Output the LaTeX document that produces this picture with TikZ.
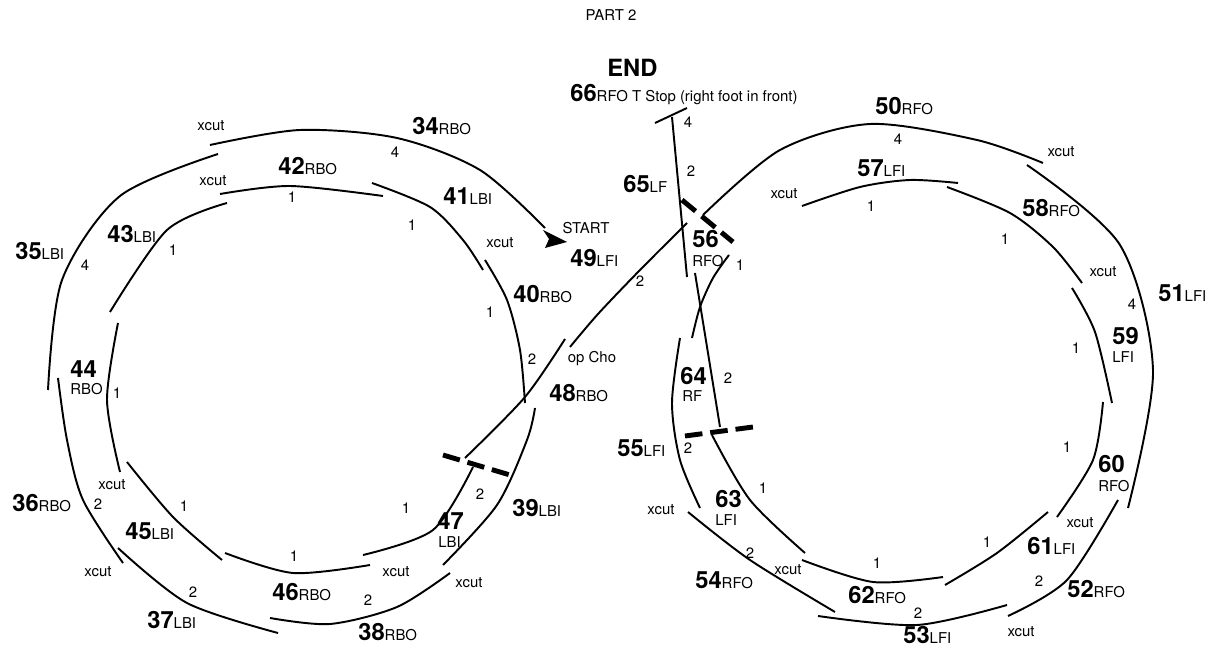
\documentclass[tikz,border=0pt]{standalone}
\usepackage{fontspec}
\setmainfont{TeX Gyre Heros}

\newcommand{\mv}[2]{{\bfseries\fontsize{13.5}{14}\selectfont #1}{\fontsize{8.5}{10}\selectfont #2}}

\tikzset{
  trace/.style={line width=1.1pt},
  cutline/.style={line width=2.8pt, dash pattern=on 10pt off 4.5pt},
  num/.style={inner sep=0pt, anchor=base west, font=\bfseries\fontsize{13.5}{14}\selectfont},
  edgetx/.style={inner sep=0pt, anchor=base west, font=\fontsize{8.5}{10}\selectfont},
  note/.style={inner sep=0pt, font=\fontsize{8.5}{10}\selectfont},
}

\begin{document}
\begin{tikzpicture}[x=0.02cm, y=-0.02cm]
  \useasboundingbox (0,0) rectangle (1221,648);

  \draw[trace] plot[smooth] coordinates {(210,145) (300,130) (397,138) (480,170) (545,228)};
  \fill (543,230) -- (567,242) -- (545,248) -- (549,239) -- cycle;
  \draw[trace] plot[smooth] coordinates {(218,154) (120,196) (62,280) (48,390)};
  \draw[trace] plot[smooth] coordinates {(58,378) (67,440) (83,500) (123,563)};
  \draw[trace] plot[smooth] coordinates {(118,548) (187,603) (278,633)};
  \draw[trace] plot[smooth] coordinates {(270,618) (330,624) (397,607) (450,573)};
  \draw[trace] plot[smooth] coordinates {(443,565) (497,505) (527,440) (535,408)};
  \draw[trace] plot[smooth] coordinates {(485,260) (507,300) (520,350) (525,403)};
  \draw[trace] plot[smooth] coordinates {(372,183) (430,207) (463,240) (483,270)};
  \draw[trace] plot[smooth] coordinates {(220,194) (290,186) (383,196)};
  \draw[trace] plot[smooth] coordinates {(227,203) (167,230) (110,312)};
  \draw[trace] plot[smooth] coordinates {(118,323) (107,400) (120,472)};
  \draw[trace] plot[smooth] coordinates {(127,462) (173,517) (222,560)};
  \draw[trace] plot[smooth] coordinates {(225,553) (293,573) (370,565)};
  \draw[trace] plot[smooth] coordinates {(363,555) (433,530) (473,467)};
  \draw[trace] plot[smooth] coordinates {(465,458) (525,397) (565,339)};
  \draw[trace] plot[smooth] coordinates {(570,347) (598,314) (640,270) (687,223)};
  \draw[trace] plot[smooth] coordinates {(703,215) (780,150) (870,124) (977,140) (1043,163)};
  \draw[trace] plot[smooth] coordinates {(1027,165) (1120,245) (1153,370) (1128,508)};
  \draw[trace] plot[smooth] coordinates {(1008,616) (1067,580) (1118,500)};
  \draw[trace] plot[smooth] coordinates {(818,616) (917,625) (1007,605)};
  \draw[trace] plot[smooth] coordinates {(688,512) (750,560) (835,612)};
  \draw[trace] plot[smooth] coordinates {(680,338) (672,403) (680,460) (700,508)};
  \draw[trace] plot[smooth] coordinates {(692,338) (700,307) (713,278) (729,255)};
  \draw[trace] plot[smooth] coordinates {(802,206) (860,187) (910,180) (958,183)};
  \draw[trace] plot[smooth] coordinates {(947,187) (1010,213) (1053,247) (1082,283)};
  \draw[trace] plot[smooth] coordinates {(1072,288) (1095,332) (1112,403)};
  \draw[trace] plot[smooth] coordinates {(1103,402) (1093,460) (1057,517)};
  \draw[trace] plot[smooth] coordinates {(945,585) (997,553) (1048,512)};
  \draw[trace] plot[smooth] coordinates {(802,560) (873,582) (943,577)};
  \draw[trace] plot[smooth] coordinates {(712,435) (750,500) (805,553)};
  \draw[trace] (672,117) -- (687,277);
  \draw[trace] (655,123) -- (687,108);
  \draw[trace] (695,273) -- (720,427);
  \draw[cutline] (443,455) -- (510,475);
  \draw[cutline] (682,200) -- (733,242);
  \draw[cutline] (685,436) -- (753,427);

  \node[note] (part) at (611,15) {PART 2};
  \node[num] (finish) at (607,77) {END};
  \node[note] (begin) at (586,228) {START};
  \node[edgetx] (m66) at (570,102) {\mv{66}{RFO T Stop (right foot in front)}};

  \node[edgetx] (m34) at (412,135) {\mv{34}{RBO}};
  \node[edgetx] (m35) at (15,260) {\mv{35}{LBI}};
  \node[edgetx] (m36) at (12,512) {\mv{36}{RBO}};
  \node[edgetx] (m37) at (147,628) {\mv{37}{LBI}};
  \node[edgetx] (m38) at (358,640) {\mv{38}{RBO}};
  \node[edgetx] (m39) at (512,517) {\mv{39}{LBI}};
  \node[edgetx] (m40) at (513,303) {\mv{40}{RBO}};
  \node[edgetx] (m41) at (443,205) {\mv{41}{LBI}};
  \node[edgetx] (m42) at (278,175) {\mv{42}{RBO}};
  \node[edgetx] (m43) at (107,243) {\mv{43}{LBI}};
  \node[num] (m44) at (70,378) {44};
  \node[edgetx] (m44e) at (70,395) {RBO};
  \node[edgetx] (m45) at (125,540) {\mv{45}{LBI}};
  \node[edgetx] (m46) at (272,601) {\mv{46}{RBO}};
  \node[num] (m47) at (437,530) {47};
  \node[edgetx] (m47e) at (438,547) {LBI};
  \node[edgetx] (m48) at (549,402) {\mv{48}{RBO}};
  \node[edgetx] (m49) at (570,267) {\mv{49}{LFI}};
  \node[edgetx] (m50) at (875,115) {\mv{50}{RFO}};
  \node[edgetx] (m51) at (1158,302) {\mv{51}{LFI}};
  \node[edgetx] (m52) at (1067,597) {\mv{52}{RFO}};
  \node[edgetx] (m53) at (903,643) {\mv{53}{LFI}};
  \node[edgetx] (m54) at (695,588) {\mv{54}{RFO}};
  \node[edgetx] (m55) at (617,457) {\mv{55}{LFI}};
  \node[num] (m56) at (692,248) {56};
  \node[edgetx] (m56e) at (692,267) {RFO};
  \node[edgetx] (m57) at (857,177) {\mv{57}{LFI}};
  \node[edgetx] (m58) at (1022,217) {\mv{58}{RFO}};
  \node[num] (m59) at (1112,345) {59};
  \node[edgetx] (m59e) at (1112,363) {LFI};
  \node[num] (m60) at (1098,473) {60};
  \node[edgetx] (m60e) at (1098,492) {RFO};
  \node[edgetx] (m61) at (1027,555) {\mv{61}{LFI}};
  \node[edgetx] (m62) at (848,603) {\mv{62}{RFO}};
  \node[num] (m63) at (715,508) {63};
  \node[edgetx] (m63e) at (715,525) {LFI};
  \node[num] (m64) at (680,385) {64};
  \node[edgetx] (m64e) at (682,402) {RF};
  \node[edgetx] (m65) at (623,193) {\mv{65}{LF}};

  \node[note] (x1) at (211,126) {xcut};
  \node[note] (x2) at (213,181) {xcut};
  \node[note] (x3) at (500,243) {xcut};
  \node[note] (x4) at (112,485) {xcut};
  \node[note] (x5) at (98,572) {xcut};
  \node[note] (x6) at (396,572) {xcut};
  \node[note] (x7) at (469,583) {xcut};
  \node[note] (x8) at (1061,152) {xcut};
  \node[note] (x9) at (784,194) {xcut};
  \node[note] (x10) at (1103,272) {xcut};
  \node[note] (x11) at (661,510) {xcut};
  \node[note] (x12) at (1080,523) {xcut};
  \node[note] (x13) at (788,570) {xcut};
  \node[note] (x14) at (1021,632) {xcut};
  \node[note] (opcho) at (592,359) {op Cho};

  \node[note] (f1) at (395,152) {4};
  \node[note] (f2) at (85,265) {4};
  \node[note] (f3) at (688,122) {4};
  \node[note] (f4) at (898,139) {4};
  \node[note] (f5) at (1132,304) {4};

  \node[note] (o1) at (292,197) {1};
  \node[note] (o2) at (412,225) {1};
  \node[note] (o3) at (173,250) {1};
  \node[note] (o4) at (490,312) {1};
  \node[note] (o5) at (117,393) {1};
  \node[note] (o6) at (184,506) {1};
  \node[note] (o7) at (406,508) {1};
  \node[note] (o8) at (294,556) {1};
  \node[note] (o9) at (871,206) {1};
  \node[note] (o10) at (1005,239) {1};
  \node[note] (o11) at (740,265) {1};
  \node[note] (o12) at (1076,348) {1};
  \node[note] (o13) at (1067,447) {1};
  \node[note] (o14) at (763,488) {1};
  \node[note] (o15) at (987,542) {1};
  \node[note] (o16) at (877,563) {1};

  \node[note] (t1) at (532,359) {2};
  \node[note] (t2) at (640,281) {2};
  \node[note] (t3) at (98,504) {2};
  \node[note] (t4) at (480,494) {2};
  \node[note] (t5) at (193,592) {2};
  \node[note] (t6) at (368,600) {2};
  \node[note] (t7) at (691,171) {2};
  \node[note] (t8) at (728,378) {2};
  \node[note] (t9) at (688,448) {2};
  \node[note] (t10) at (750,553) {2};
  \node[note] (t11) at (918,613) {2};
  \node[note] (t12) at (1039,581) {2};
\end{tikzpicture}
\end{document}
